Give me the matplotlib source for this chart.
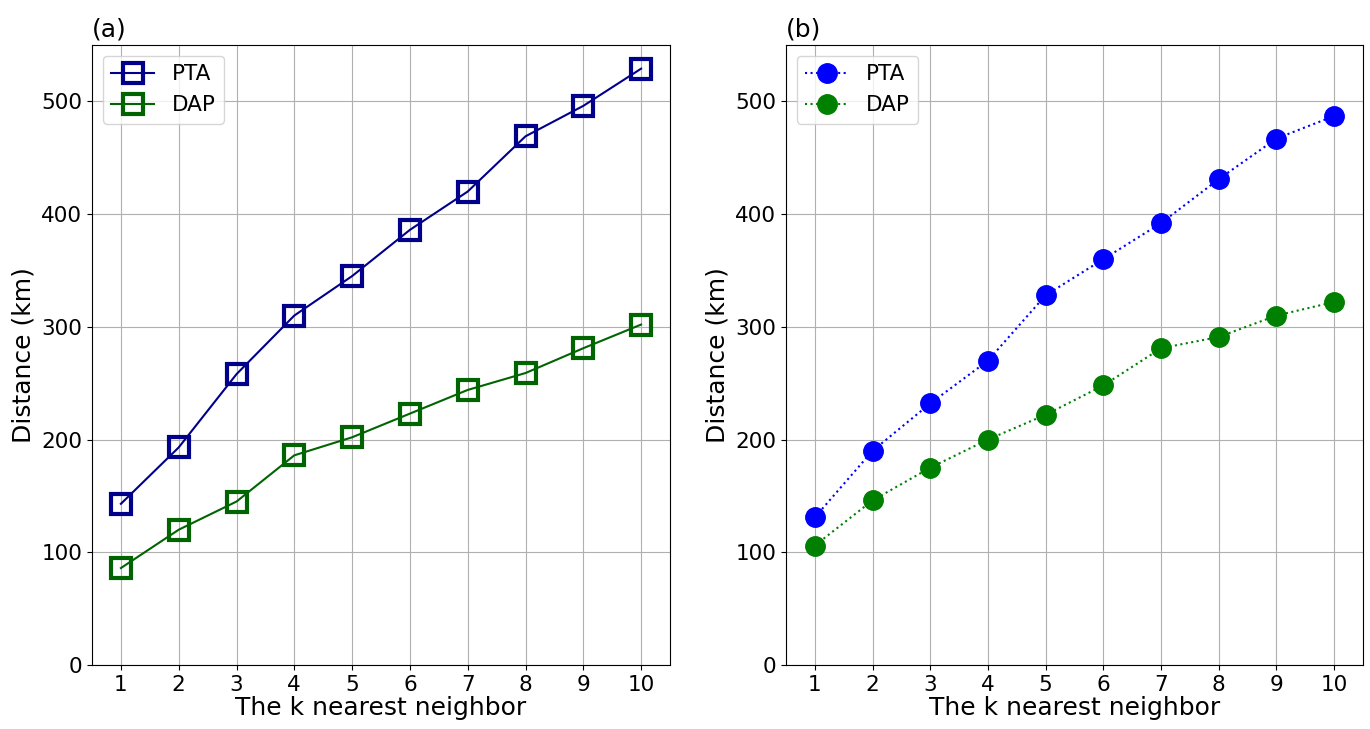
import numpy as np
import matplotlib.pyplot as plt

k = np.arange(1, 11)

# (a) distances
pta_a = [143, 193, 258, 310, 345, 386, 420, 469, 496, 529]
dap_a = [86, 120, 145, 186, 202, 223, 244, 259, 281, 302]

# (b) distances
pta_b = [131, 190, 232, 270, 328, 360, 392, 431, 467, 487]
dap_b = [106, 146, 175, 200, 222, 248, 281, 291, 310, 322]

plt.rcParams['font.size'] = 15.5

fig = plt.figure(figsize=(13.7, 7.29), dpi=100)
ax1 = fig.add_axes([92/1370, 1-665/729, 578/1370, 620/729])
ax2 = fig.add_axes([786/1370, 1-665/729, 577/1370, 620/729])

ax1.plot(k, pta_a, '-s', color='darkblue', markerfacecolor='none',
         markersize=15, markeredgewidth=3, label='PTA')
ax1.plot(k, dap_a, '-s', color='darkgreen', markerfacecolor='none',
         markersize=15, markeredgewidth=3, label='DAP')

ax2.plot(k, pta_b, ':o', color='blue', markersize=14, label='PTA')
ax2.plot(k, dap_b, ':o', color='green', markersize=14, label='DAP')

for ax, tag in [(ax1, '(a)'), (ax2, '(b)')]:
    ax.set_xlim(0.5, 10.5)
    ax.set_ylim(0, 550)
    ax.set_xticks(k)
    ax.set_yticks([0, 100, 200, 300, 400, 500])
    ax.grid(True)
    ax.set_axisbelow(True)
    ax.set_xlabel('The k nearest neighbor', fontsize=18, labelpad=1)
    ax.set_ylabel('Distance (km)', fontsize=18, labelpad=4)
    ax.set_title(tag, loc='left', fontsize=18)
    ax.legend(loc='upper left', fontsize=15.5)

fig.savefig('out.png', dpi=100)
